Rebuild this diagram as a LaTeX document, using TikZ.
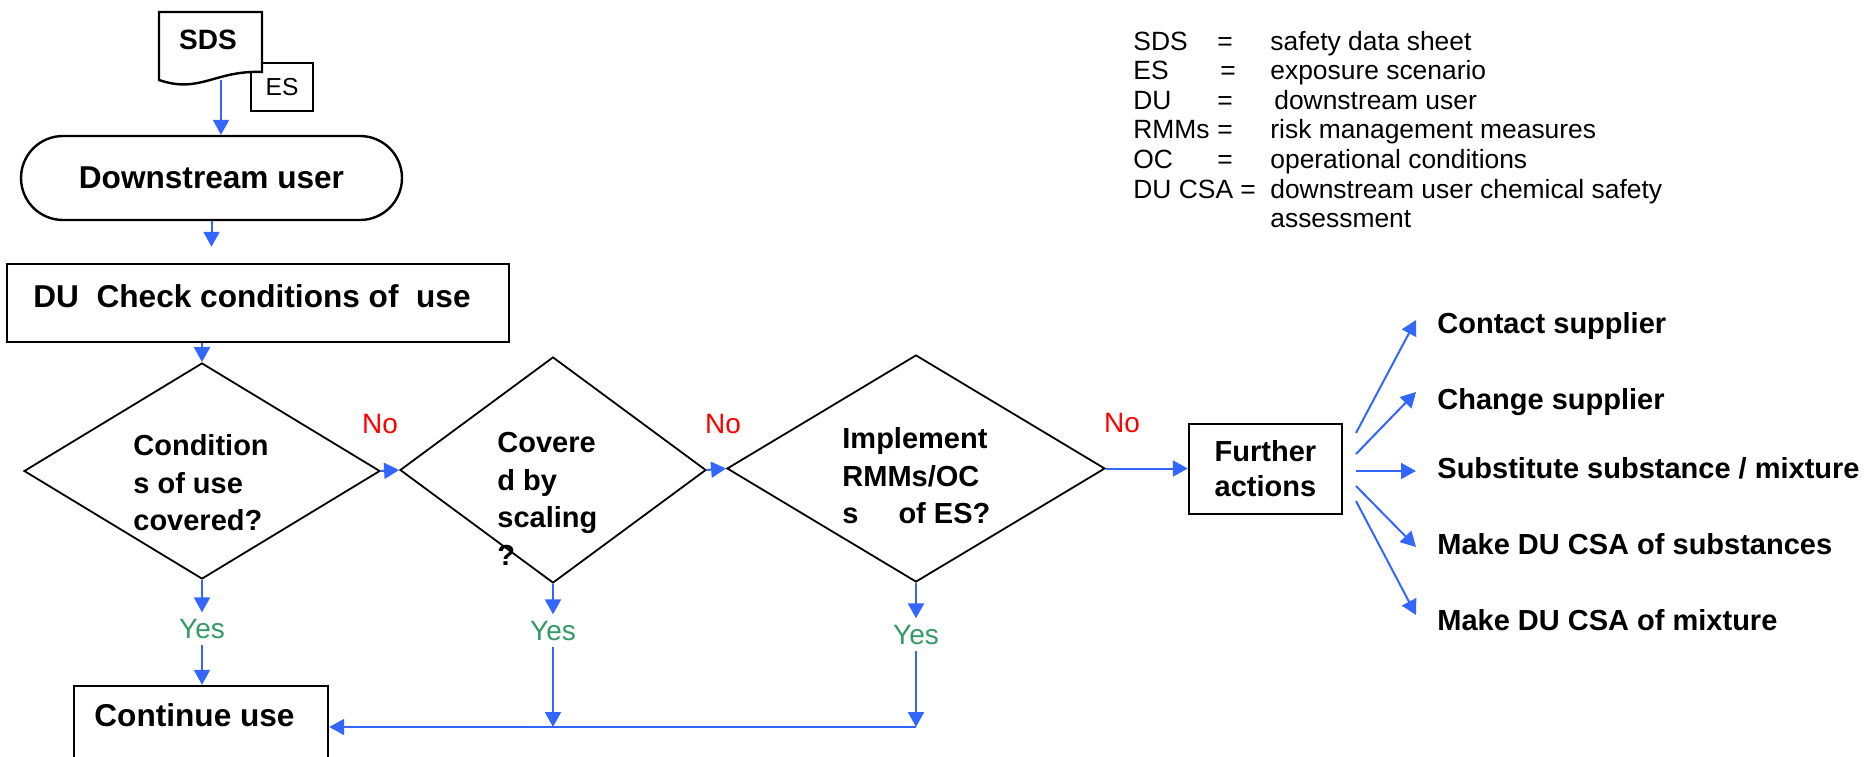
\documentclass[tikz,border=0pt]{standalone}
\usepackage{fontspec}
\setmainfont{Liberation Sans}
\usetikzlibrary{shapes.geometric,arrows.meta}
\definecolor{flowblue}{RGB}{51,102,255}
\definecolor{yesgreen}{RGB}{51,153,102}
\newcommand{\dufont}{\fontsize{15.8}{19}\selectfont\bfseries}
\newcommand{\qfont}{\fontsize{14.5}{17.5}\selectfont\bfseries}
\newcommand{\dfont}{\fontsize{14.5}{18.8}\selectfont\bfseries}
\newcommand{\ynfont}{\fontsize{14}{16}\selectfont}
\newcommand{\legendfont}{\fontsize{13.2}{14.8}\selectfont}

\begin{document}
\begin{tikzpicture}[x=0.5pt, y=-0.5pt,
    flow/.style={draw=flowblue, line width=1pt, -{Triangle[length=7.5pt,width=8pt]}},
    box/.style={draw, line width=1.2pt, inner sep=0pt},
    decision/.style={draw, diamond, line width=0.9pt, inner sep=0pt},
    txt/.style={inner sep=0pt, align=left, anchor=west},
    no/.style={red, font=\ynfont, anchor=base},
    yes/.style={yesgreen, font=\ynfont, anchor=base, inner sep=3pt}]
  \useasboundingbox (0,0) rectangle (1865,756);

  % SDS sheet with the ES box behind it
  \node[box, minimum width=31pt, minimum height=24pt, font=\fontsize{12.3}{14}\selectfont] (es) at (282,87) {ES};
  \draw[line width=1.2pt, fill=white] (159,12) -- (262,12) -- (262,72) .. controls (215,70) and (200,94) .. (159,80) -- cycle;
  \node[font=\fontsize{14}{16}\selectfont\bfseries] (sds) at (208,40) {SDS};
  \coordinate (sdsbot) at (221,80);

  \node[box, rounded corners=21pt, minimum width=190.5pt, minimum height=42pt, font=\dufont] (du) at (211.5,178) {Downstream user};
  \node[box, minimum width=251pt, minimum height=39pt] (check) at (258,303) {};
  \node[txt, anchor=base west, font=\dufont] (checktxt) at (33,307) {DU~~Check conditions of~~use};

  % the three questions
  \node[decision, minimum width=178pt, minimum height=108pt] (d1) at (202,471) {};
  \node[decision, minimum width=153pt, minimum height=113pt] (d2) at (553,470) {};
  \node[decision, minimum width=189pt, minimum height=113.5pt] (d3) at (916,468.5) {};
  \node[txt, font=\dfont] (d1txt) at (133,483) {Condition\\s of use\\covered?};
  \node[txt, font=\dfont] (d2txt) at (497,499) {Covere\\d by\\scaling\\?};
  \node[txt, font=\dfont] (d3txt) at (842,476) {Implement\\RMMs/OC\\s\hspace{20pt}of ES?};

  \node[box, minimum width=76.5pt, minimum height=45pt, align=left, font=\qfont] (further) at (1265.5,469) {Further\\actions};
  \node[box, minimum width=127pt, minimum height=41pt] (cont) at (201,727) {};
  \node[txt, anchor=base west, font=\dufont] (conttxt) at (94,726) {Continue use};

  \node[no] (no1) at (380,433) {No};
  \node[no] (no2) at (723,433) {No};
  \node[no] (no3) at (1122,432) {No};
  \node[yes] (yes1) at (202,638) {Yes};
  \node[yes] (yes2) at (553,640) {Yes};
  \node[yes] (yes3) at (916,644) {Yes};

  % further actions
  \node[txt, anchor=base west, font=\qfont] (act1) at (1437,333) {Contact supplier};
  \node[txt, anchor=base west, font=\qfont] (act2) at (1437,409) {Change supplier};
  \node[txt, anchor=base west, font=\qfont] (act3) at (1437,478) {Substitute substance / mixture};
  \node[txt, anchor=base west, font=\qfont] (act4) at (1437,554) {Make DU CSA of substances};
  \node[txt, anchor=base west, font=\qfont] (act5) at (1437,630) {Make DU CSA of mixture};
  \coordinate (f1) at (1356,433);
  \coordinate (f2) at (1356,454);
  \coordinate (f3) at (1356,471);
  \coordinate (f4) at (1356,486);
  \coordinate (f5) at (1356,501);

  % legend
  \node[anchor=north west, inner sep=0pt, font=\legendfont] (legend) at (1133,29) {%
    \begin{tabular}{@{}p{42pt}@{}p{26.5pt}@{}l@{}}
      SDS & = & safety data sheet\\
      ES & \hspace{1.5pt}= & exposure scenario\\
      DU & = & \hspace{2pt}downstream user\\
      RMMs & = & risk management measures\\
      OC & = & operational conditions\\
      \multicolumn{2}{@{}l@{}}{DU CSA =} & downstream user chemical safety\\
       & & assessment
    \end{tabular}};

  \draw[flow] (sdsbot) -- (sdsbot |- du.north);
  \draw[flow, shorten >=8pt] (du.south) -- (du.south |- check.north);
  \draw[flow] (d1.north |- check.south) -- (d1.north);
  \draw[flow] (d1.east) -- (d2.west);
  \draw[flow] (d2.east) -- (d3.west);
  \draw[flow] (d3.east) -- (d3.east -| further.west);
  \draw[flow] (d1.south) -- (yes1);
  \draw[flow] (yes1) -- (yes1 |- cont.north);
  \draw[flow] (d2.south) -- (yes2);
  \draw[flow] (yes2) -- (yes2 |- cont.east);
  \draw[flow] (d3.south) -- (yes3);
  \draw[flow] (yes3) -- (yes3 |- cont.east);
  \draw[flow] (yes3 |- cont.east) -- (cont.east);
  \draw[flow] (f1) -- ([xshift=-10.5pt,yshift=6.5pt]act1.base west);
  \draw[flow] (f2) -- ([xshift=-10.5pt,yshift=8.5pt]act2.base west);
  \draw[flow] (f3) -- ([xshift=-10.5pt,yshift=3.5pt]act3.base west);
  \draw[flow] (f4) -- ([xshift=-10.5pt,yshift=3.5pt]act4.base west);
  \draw[flow] (f5) -- ([xshift=-10.5pt,yshift=7.5pt]act5.base west);
\end{tikzpicture}
\end{document}
